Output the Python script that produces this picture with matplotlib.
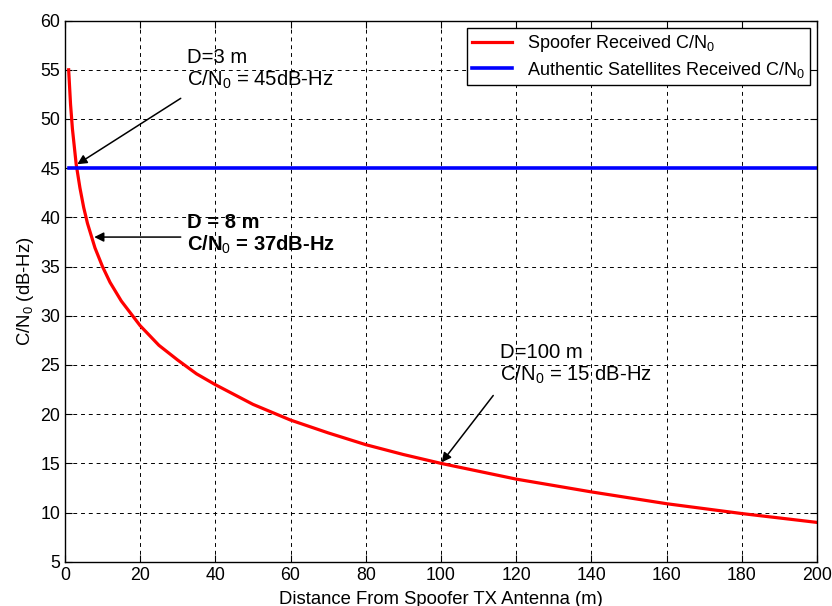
import matplotlib
matplotlib.use('Agg')
import matplotlib.pyplot as plt

# data
distance = [1, 1.5, 2, 3, 4, 5, 6, 8, 10, 12, 15, 20, 25, 30, 35, 40, 50, 60,
            70, 80, 90, 100, 120, 140, 160, 180, 200]
spoofer_cn0 = [55.0, 51.5, 49.0, 45.4, 43.0, 41.0, 39.4, 36.9, 35.0, 33.4, 31.5,
               29.0, 27.0, 25.5, 24.1, 23.0, 21.0, 19.4, 18.1, 16.9, 15.9, 15.0,
               13.4, 12.1, 10.9, 9.9, 9.0]
auth_x = [1, 200]
auth_cn0 = [45, 45]

plt.rcParams['font.family'] = ['Liberation Sans', 'DejaVu Sans']
plt.rcParams['mathtext.fontset'] = 'custom'
plt.rcParams['mathtext.rm'] = 'Liberation Sans'
plt.rcParams['mathtext.it'] = 'Liberation Sans:italic'
plt.rcParams['mathtext.bf'] = 'Liberation Sans:bold'

fig = plt.figure(figsize=(8.32, 6.06), dpi=100)
ax = fig.add_axes([0.078, 0.073, 0.904, 0.893])

ax.plot(distance, spoofer_cn0, color='#ff0000', lw=2.3, label='Spoofer Received C/N$_0$')
ax.plot(auth_x, auth_cn0, color='#0000ff', lw=2.6, label='Authentic Satellites Received C/N$_0$')

ax.set_xlim(0, 200)
ax.set_ylim(5, 60)
ax.set_xticks(range(0, 201, 20))
ax.set_yticks(range(5, 61, 5))
ax.grid(True, color='black', linestyle=(0, (4, 4)), lw=0.7)
ax.tick_params(direction='in', top=True, right=True, labelsize=12.8, length=5)
for s in ax.spines.values():
    s.set_linewidth(1.0)

ax.set_xlabel('Distance From Spoofer TX Antenna (m)', fontsize=13.3, labelpad=5)
ax.set_ylabel('C/N$_0$ (dB-Hz)', fontsize=13.3, labelpad=3)

# annotation texts
ax.text(32.6, 57.2, 'D=3 m\nC/N$_0$ = 45dB-Hz', fontsize=14.6, va='top', ha='left',
        linespacing=1.1)
ax.text(32.6, 40.4, 'D = 8 m\nC/N$_0$ = 37dB-Hz', fontsize=14.5, fontweight='bold',
        va='top', ha='left', linespacing=1.1)
ax.text(115.7, 27.2, 'D=100 m\nC/N$_0$ = 15 dB-Hz', fontsize=14.6, va='top', ha='left',
        linespacing=1.1)

# arrows
arrow = dict(arrowstyle='-|>', color='black', lw=1.1, mutation_scale=14,
             shrinkA=0, shrinkB=0)
ax.annotate('', xy=(3.3, 45.4), xytext=(30.8, 52.1), arrowprops=arrow)
ax.annotate('', xy=(7.8, 38.0), xytext=(30.8, 38.0), arrowprops=arrow)
ax.annotate('', xy=(100.2, 15.1), xytext=(113.9, 21.9), arrowprops=arrow)

leg = ax.legend(loc='upper right', fontsize=13, fancybox=False, edgecolor='black',
                framealpha=1, handlelength=2.2, borderpad=0.3, labelspacing=0.3,
                borderaxespad=0.4)
leg.get_frame().set_linewidth(1.0)

plt.savefig('out.png', dpi=100)
